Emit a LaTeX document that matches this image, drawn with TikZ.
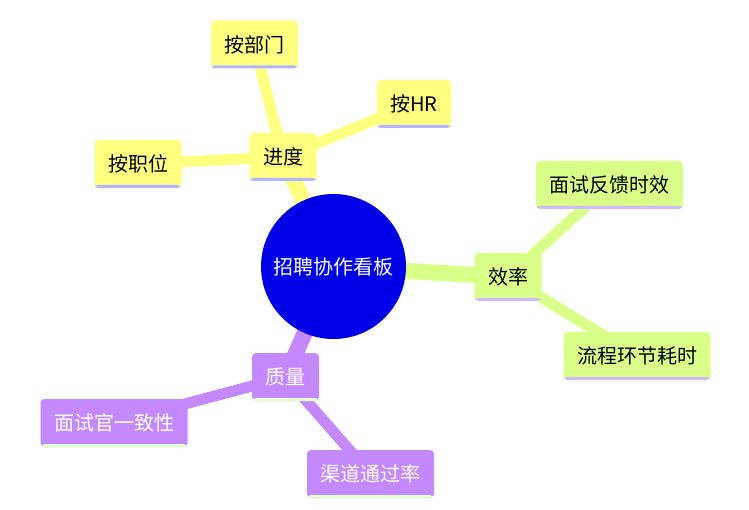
\documentclass[tikz,border=0pt]{standalone}
\usepackage{fontspec}
\setmainfont{Noto Sans CJK SC}
\usetikzlibrary{backgrounds}
\definecolor{rootblue}{HTML}{0000E6}
\definecolor{progyellow}{HTML}{FFFF80}
\definecolor{progstrip}{HTML}{B3B3FF}
\definecolor{effgreen}{HTML}{D9FF88}
\definecolor{effstrip}{HTML}{D2B8FF}
\definecolor{qualpurple}{HTML}{C488FF}
\definecolor{qualstrip}{HTML}{E0FFCC}
\tikzset{
  topic/.style 2 args={rectangle, rounded corners=4pt, fill=#1, minimum height=48pt,
    inner xsep=13.5pt, inner ysep=0pt, font=\fontsize{20}{20}\selectfont,
    path picture={\fill[#2] ([yshift=3pt]path picture bounding box.south west)
      rectangle (path picture bounding box.south east);}},
  branch/.style={line width=16pt, draw=#1},
  twig/.style={line width=11pt, draw=#1},
}
\begin{document}
\begin{tikzpicture}[x=1pt,y=-1pt]
  \useasboundingbox (0,0) rectangle (749,510);

  \node[circle, fill=rootblue, minimum size=145pt, inner sep=0pt, text=white,
    font=\fontsize{20}{20}\selectfont] (root) at (333.5,266.5) {招聘协作看板};

  \node[topic={progyellow}{progstrip}] (prog) at (283,157) {进度};
  \node[topic={progyellow}{progstrip}] (dept) at (254.5,44.5) {按部门};
  \node[topic={progyellow}{progstrip}, minimum width=70pt] (hr) at (414,104) {按HR};
  \node[topic={progyellow}{progstrip}] (pos) at (138,164) {按职位};

  \node[topic={effgreen}{effstrip}] (eff) at (508,277) {效率};
  \node[topic={effgreen}{effstrip}] (fb) at (609.5,185) {面试反馈时效};
  \node[topic={effgreen}{effstrip}] (flow) at (637,356) {流程环节耗时};

  \node[topic={qualpurple}{qualstrip}, text=white] (qual) at (285.5,377) {质量};
  \node[topic={qualpurple}{qualstrip}, text=white] (iv) at (114,423) {面试官一致性};
  \node[topic={qualpurple}{qualstrip}, text=white] (chan) at (370.5,474) {渠道通过率};

  \begin{pgfonlayer}{background}
    \draw[branch=progyellow] (root.center) -- (prog.center);
    \draw[branch=effgreen] (root.center) -- (eff.center);
    \draw[branch=qualpurple] (root.center) -- (qual.center);
    \draw[twig=progyellow] (prog.center) -- (dept.center);
    \draw[twig=progyellow] (prog.center) -- (hr.center);
    \draw[twig=progyellow] (prog.center) -- (pos.center);
    \draw[twig=effgreen] (eff.center) -- (fb.center);
    \draw[twig=effgreen] (eff.center) -- (flow.center);
    \draw[twig=qualpurple] (qual.center) -- (iv.center);
    \draw[twig=qualpurple] (qual.center) -- (chan.center);
  \end{pgfonlayer}
\end{tikzpicture}
\end{document}
